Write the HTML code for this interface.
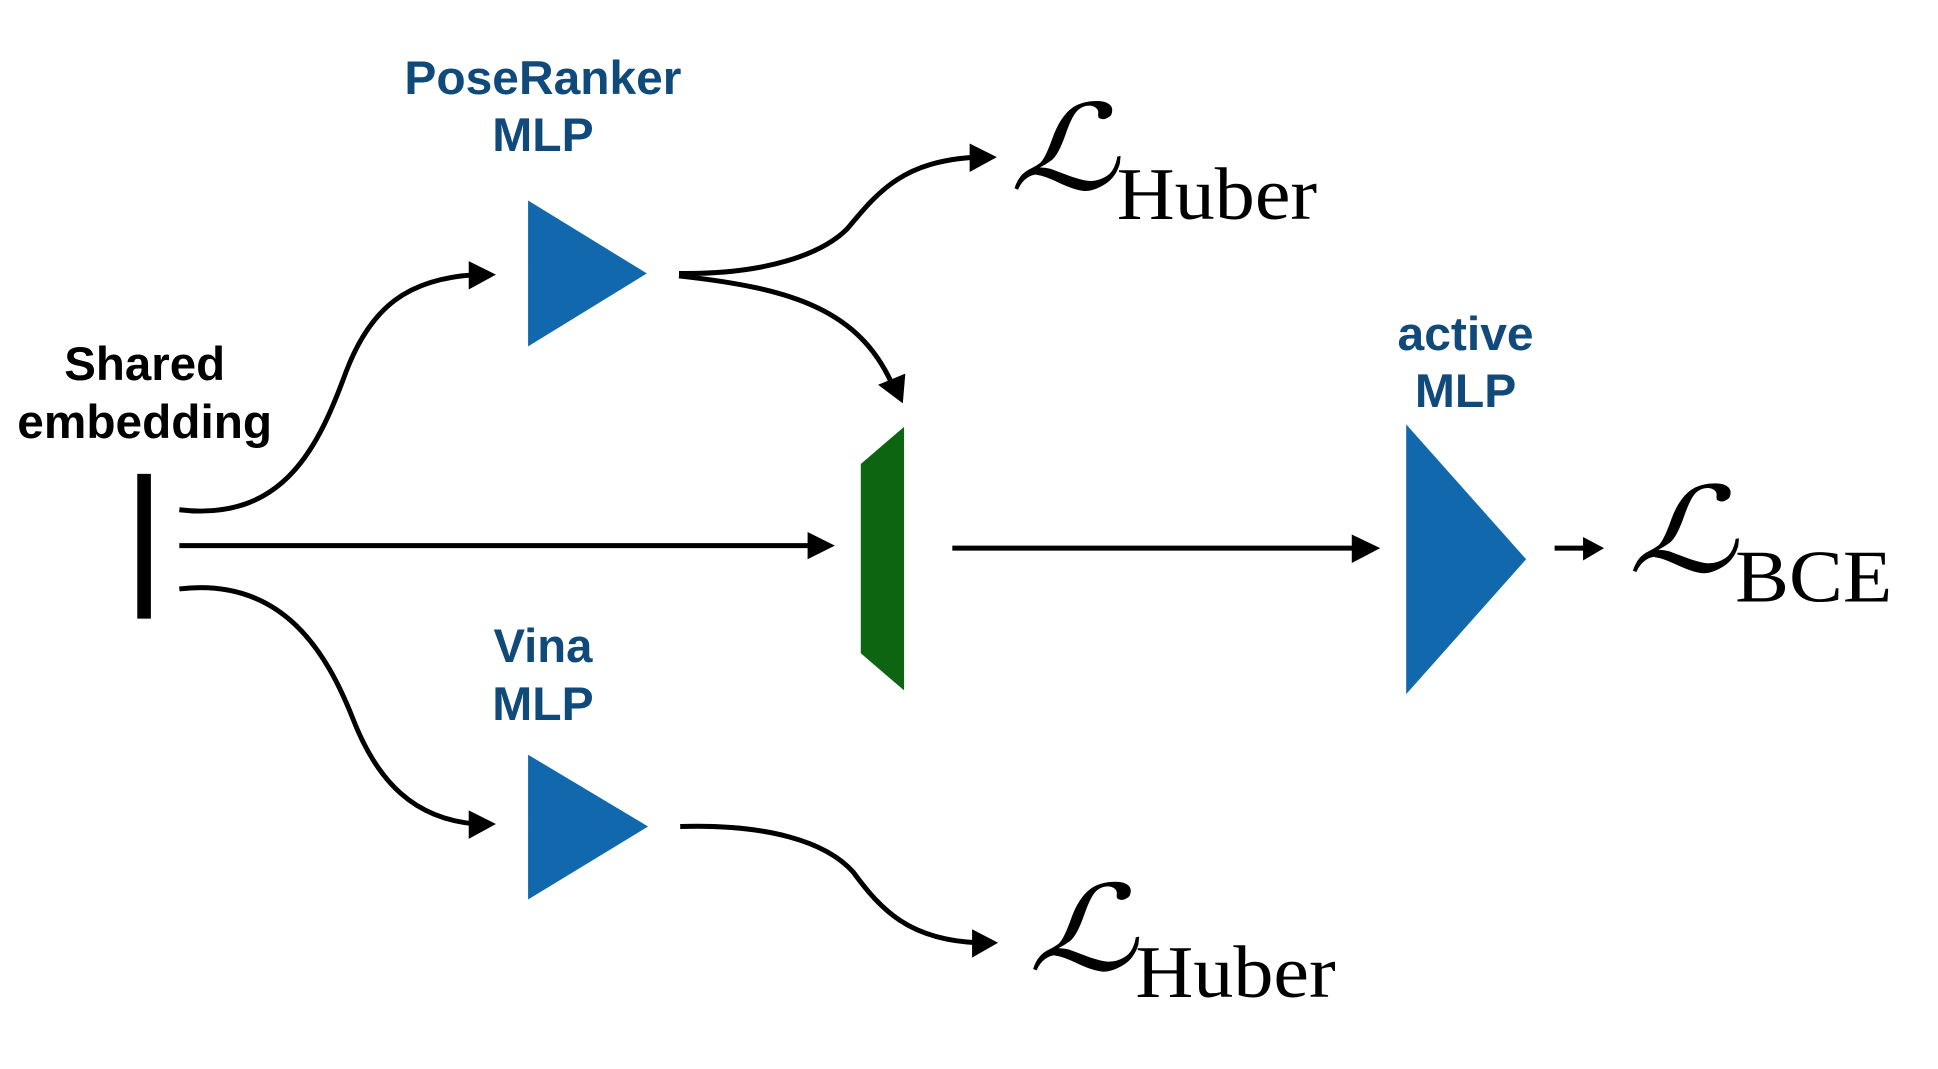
<!DOCTYPE html>
<html><head><meta charset="utf-8"><style>
html,body{margin:0;padding:0;background:#fff;}
svg{display:block;}
.b{font-family:"Liberation Sans",sans-serif;font-weight:bold;font-size:38px;text-anchor:middle;}
.s{font-family:"Liberation Serif",serif;}
</style></head><body>
<svg width="1938" height="1069" viewBox="0 0 1567 864" preserveAspectRatio="none" xmlns="http://www.w3.org/2000/svg">
<g fill="none" stroke="#000" stroke-width="4">
<path d="M145,412 C230,422 258,360 280,300 C300,248 330,225 385,222"/>
<path d="M145,441 L660,441"/>
<path d="M145,476 C230,466 265,530 285,580 C305,632 335,662 385,666"/>
<path d="M549,221 C620,222 665,205 685,185 C710,155 730,130 790,127"/>
<path d="M549,223 C640,233 695,250 722,312"/>
<path d="M550,668 C620,666 668,680 690,705 C712,735 735,760 792,762"/>
<path d="M770,443 L1100,443"/>
<path d="M1257,443 L1283,443"/>
</g>
<g fill="#000">
<polygon points="379,211 401,222 379,234"/>
<polygon points="653,430 675,441 653,452"/>
<polygon points="379,655 401,666 379,678"/>
<polygon points="784,116 806,127 784,139"/>
<polygon points="710,311 730,326 732,302"/>
<polygon points="786,751 807,762 786,774"/>
<polygon points="1093,432 1116,443 1093,455"/>
<polygon points="1280,434 1297,443 1280,453"/>
</g>
<rect x="111" y="383" width="11" height="117" fill="#000"/>
<text class="b" x="117" y="307" fill="#000" textLength="130" lengthAdjust="spacingAndGlyphs">Shared</text>
<text class="b" x="117" y="354" fill="#000" textLength="206" lengthAdjust="spacingAndGlyphs">embedding</text>
<text class="b" x="439" y="76" fill="#0f4a7a" textLength="224" lengthAdjust="spacingAndGlyphs">PoseRanker</text>
<text class="b" x="439" y="122" fill="#0f4a7a" textLength="82" lengthAdjust="spacingAndGlyphs">MLP</text>
<text class="b" x="439" y="535" fill="#0f4a7a" textLength="80" lengthAdjust="spacingAndGlyphs">Vina</text>
<text class="b" x="439" y="582" fill="#0f4a7a" textLength="82" lengthAdjust="spacingAndGlyphs">MLP</text>
<text class="b" x="1185" y="283" fill="#0f4a7a" textLength="110" lengthAdjust="spacingAndGlyphs">active</text>
<text class="b" x="1185" y="329" fill="#0f4a7a" textLength="82" lengthAdjust="spacingAndGlyphs">MLP</text>
<polygon points="427,162 427,280 523,221" fill="#1168ad"/>
<polygon points="427,610 427,727 524,668" fill="#1168ad"/>
<polygon points="1137,343 1137,561 1234,452" fill="#1168ad"/>
<polygon points="696,375 731,345 731,558 696,528" fill="#0d6512"/>
<text class="s" x="816" y="153" font-size="96" font-style="italic" textLength="88" lengthAdjust="spacingAndGlyphs">ℒ</text>
<text class="s" x="903" y="177" font-size="60" textLength="162" lengthAdjust="spacingAndGlyphs">Huber</text>
<text class="s" x="831" y="784" font-size="96" font-style="italic" textLength="88" lengthAdjust="spacingAndGlyphs">ℒ</text>
<text class="s" x="918" y="806" font-size="60" textLength="162" lengthAdjust="spacingAndGlyphs">Huber</text>
<text class="s" x="1316" y="462" font-size="96" font-style="italic" textLength="88" lengthAdjust="spacingAndGlyphs">ℒ</text>
<text class="s" x="1403" y="486" font-size="60" textLength="127" lengthAdjust="spacingAndGlyphs">BCE</text>
</svg>
</body></html>
